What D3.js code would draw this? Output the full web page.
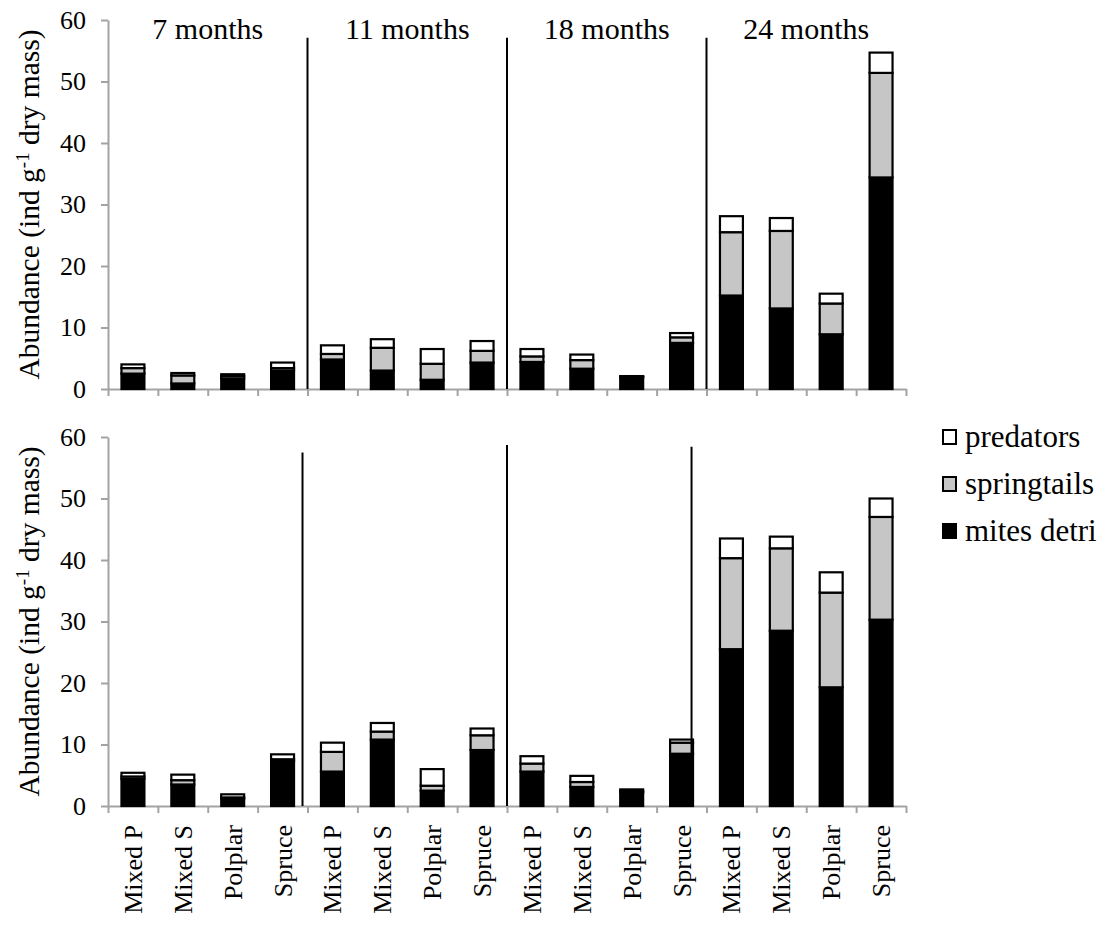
<!DOCTYPE html>
<html>
<head>
<meta charset="utf-8">
<script src="https://cdn.jsdelivr.net/npm/d3@7"></script>
<style>
  html, body { margin: 0; padding: 0; background: #fff; }
</style>
</head>
<body>
<svg id="chart" width="1111" height="930"></svg>
<script>
// Sites sampled at each litterbag retrieval
const categories = ["Mixed P", "Mixed S", "Polplar", "Spruce"];
const periods = ["7 months", "11 months", "18 months", "24 months"];
const seriesNames = ["mites detri", "springtails", "predators"];
const seriesColors = ["#000000", "#c6c6c6", "#ffffff"];
const yTicks = [0, 10, 20, 30, 40, 50, 60];

// Upper panel: abundance (ind g-1 dry mass), 4 sites x 4 periods
const topMites       = [2.5, 0.9, 1.7, 3.0,   4.8, 3.0, 1.5, 4.3,   4.4, 3.3, 1.9, 7.5,   15.2, 13.1, 8.9, 34.4];
const topSpringtails = [0.9, 1.3, 0.4, 0.4,   0.9, 3.7, 2.6, 1.9,   0.9, 1.4, 0.1, 0.9,   10.3, 12.6, 5.0, 17.0];
const topPredators   = [0.6, 0.4, 0.3, 0.9,   1.4, 1.4, 2.4, 1.6,   1.2, 0.9, 0.1, 0.7,    2.6,  2.1, 1.6,  3.3];

// Lower panel
const bottomMites       = [4.4, 3.5, 1.2, 7.3,   5.6, 10.8, 2.5, 9.1,   5.6, 3.1, 2.2, 8.5,   25.5, 28.5, 19.3, 30.3];
const bottomSpringtails = [0.4, 0.7, 0.2, 0.3,   3.2,  1.3, 0.8, 2.4,   1.3, 0.8, 0.2, 1.8,   14.8, 13.4, 15.4, 16.7];
const bottomPredators   = [0.6, 0.9, 0.5, 0.8,   1.5,  1.4, 2.7, 1.1,   1.2, 1.0, 0.3, 0.5,    3.2,  1.9,  3.3,  3.0];

// Period dividers, in category units along the x axis, and their top ends in data units
const topDividers = [4, 8, 12];
const topDividerTops = [57.1, 57.1, 57.1];
const bottomDividers = [3.9, 8.0, 11.7];
const bottomDividerTops = [57.5, 58.7, 58.4];

const FONT = '"Liberation Serif"';
const svg = d3.select("#chart");
const nCats = periods.length * categories.length;
const xLeft = 108, xRight = 906;

const xBand = d3.scaleBand().domain(d3.range(nCats)).range([xLeft, xRight])
  .paddingInner(0.54).paddingOuter(0.27);
const xLin = d3.scaleLinear().domain([0, nCats]).range([xLeft, xRight]);

const axisGray = "#a3a3a3";

function styleText(sel, size) {
  return sel.style("font-family", FONT).style("font-size", size + "px").style("fill", "#000");
}

function drawPanel(opts) {
  const y = d3.scaleLinear().domain([0, 60]).range([opts.y0, opts.y1]);
  const g = svg.append("g");

  const rows = d3.range(nCats).map(i => ({
    i,
    "mites detri": opts.mites[i],
    "springtails": opts.springtails[i],
    "predators": opts.predators[i]
  }));
  const stacked = d3.stack().keys(seriesNames)(rows);

  // y axis
  const yAxis = g.append("g").attr("transform", `translate(${xLeft},0)`)
    .call(d3.axisLeft(y).tickValues(yTicks).tickSize(7).tickSizeOuter(0).tickPadding(15));
  yAxis.attr("font-family", null).attr("font-size", null);
  yAxis.selectAll("path, line").attr("stroke", axisGray).attr("stroke-width", 2);
  styleText(yAxis.selectAll("text"), 26);

  // x axis with tick marks between categories
  const xAxis = g.append("g").attr("transform", `translate(0,${opts.y0})`)
    .call(d3.axisBottom(xLin).tickValues(d3.range(nCats + 1)).tickSize(7).tickSizeOuter(0).tickFormat(""));
  xAxis.selectAll("path, line").attr("stroke", axisGray).attr("stroke-width", 2);

  // stacked bars
  stacked.forEach((layer, k) => {
    g.append("g").selectAll("rect").data(layer).enter().append("rect")
      .attr("x", d => xBand(d.data.i))
      .attr("width", xBand.bandwidth())
      .attr("y", d => y(d[1]))
      .attr("height", d => Math.max(0, y(d[0]) - y(d[1])))
      .attr("fill", seriesColors[k])
      .attr("stroke", "#000")
      .attr("stroke-width", 2.2);
  });

  // period dividers
  g.append("g").selectAll("line").data(opts.dividers).enter().append("line")
    .attr("x1", d => xLin(d)).attr("x2", d => xLin(d))
    .attr("y1", y(0)).attr("y2", (d, i) => y(opts.dividerTops[i]))
    .attr("stroke", "#000").attr("stroke-width", 2);

  // y-axis title
  const cy = (opts.y0 + opts.y1) / 2;
  const title = styleText(g.append("text"), 29.5)
    .attr("transform", `translate(39,${cy}) rotate(-90)`)
    .attr("text-anchor", "middle");
  title.append("tspan").text("Abundance (ind g");
  title.append("tspan").attr("baseline-shift", "super").style("font-size", "19px").text("-1");
  title.append("tspan").text(" dry mass)");

  return { y, g };
}

const upperPanel = drawPanel({
  y0: 389, y1: 20,
  mites: topMites, springtails: topSpringtails, predators: topPredators,
  dividers: topDividers, dividerTops: topDividerTops
});

// period labels above the upper panel
styleText(upperPanel.g.append("g").selectAll("text").data(periods).enter().append("text"), 30)
  .attr("x", (d, i) => xLin(i * categories.length + categories.length / 2))
  .attr("y", 39)
  .attr("text-anchor", "middle")
  .text(d => d);

const lowerPanel = drawPanel({
  y0: 806, y1: 437,
  mites: bottomMites, springtails: bottomSpringtails, predators: bottomPredators,
  dividers: bottomDividers, dividerTops: bottomDividerTops
});

// category labels under the lower panel
const labels = d3.range(nCats).map(i => categories[i % categories.length]);
styleText(lowerPanel.g.append("g").selectAll("text").data(labels).enter().append("text"), 26)
  .attr("transform", (d, i) => `translate(${xBand(i) + xBand.bandwidth() / 2 + 9},${825}) rotate(-90)`)
  .attr("text-anchor", "end")
  .text(d => d);

// legend, listed top to bottom as stacked top to bottom
const legendItems = seriesNames.slice().reverse();
const legendColors = seriesColors.slice().reverse();
const legend = svg.append("g").attr("transform", "translate(943,437)");
const item = legend.selectAll("g").data(legendItems).enter().append("g")
  .attr("transform", (d, i) => `translate(0,${i * 47})`);
item.append("rect")
  .attr("x", 0).attr("y", -7).attr("width", 13).attr("height", 14)
  .attr("fill", (d, i) => legendColors[i])
  .attr("stroke", "#000").attr("stroke-width", 2);
styleText(item.append("text"), 31)
  .attr("x", 22).attr("y", 10)
  .text(d => d);
</script>
</body>
</html>
